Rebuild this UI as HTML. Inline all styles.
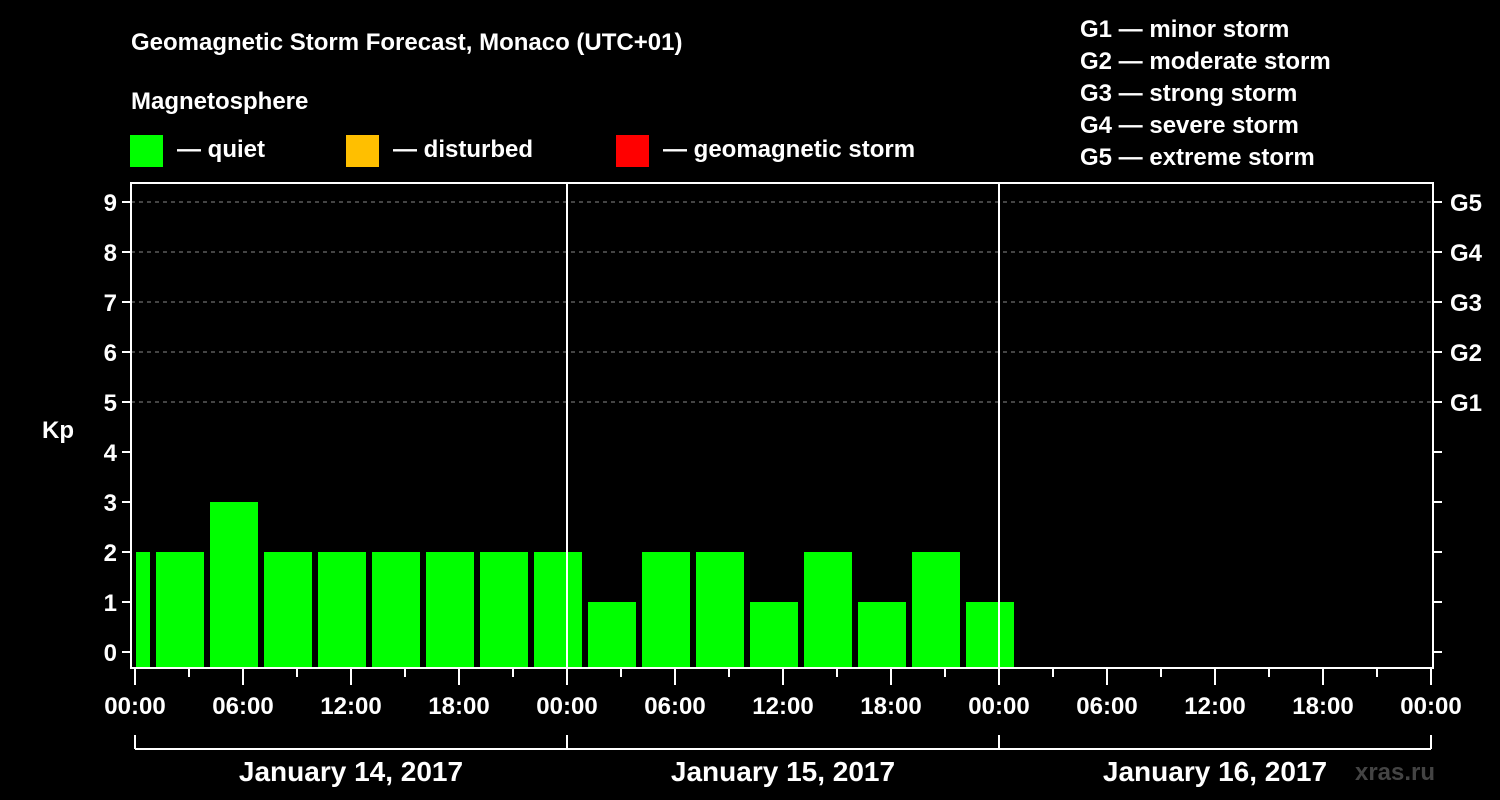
<!DOCTYPE html>
<html><head><meta charset="utf-8"><style>
html,body{margin:0;padding:0;background:#000;}
svg{display:block;font-family:"Liberation Sans",Arial,sans-serif;font-weight:bold;}
</style></head><body>
<svg id="chart" width="1500" height="800" viewBox="0 0 1500 800">
<rect width="1500" height="800" fill="#000"/>
<text x="131" y="50" fill="#fff" font-size="24">Geomagnetic Storm Forecast, Monaco (UTC+01)</text>
<text x="131" y="109" fill="#fff" font-size="24">Magnetosphere</text>
<g><rect x="130" y="135" width="33" height="32" fill="#00ff00"/><text x="177" y="157" fill="#fff" font-size="24">— quiet</text></g>
<g><rect x="346" y="135" width="33" height="32" fill="#ffbf00"/><text x="393" y="157" fill="#fff" font-size="24">— disturbed</text></g>
<g><rect x="616" y="135" width="33" height="32" fill="#ff0000"/><text x="663" y="157" fill="#fff" font-size="24">— geomagnetic storm</text></g>
<g fill="#fff" font-size="24">
<text x="1080" y="37">G1 — minor storm</text>
<text x="1080" y="69">G2 — moderate storm</text>
<text x="1080" y="101">G3 — strong storm</text>
<text x="1080" y="133">G4 — severe storm</text>
<text x="1080" y="165">G5 — extreme storm</text>
</g>
<text x="42" y="438" fill="#fff" font-size="24">Kp</text>
<text x="1395" y="780" fill="#444" font-size="24" text-anchor="middle">xras.ru</text>
<g id="plot"></g>
</svg>
<script>
const kpValues=[2,2,3,2,2,2,2,2,2,1,2,2,1,2,1,2,1];
const binStartHours=[-2,1,4,7,10,13,16,19,22,25,28,31,34,37,40,43,46];
const yTicks=[0,1,2,3,4,5,6,7,8,9];
const gLabels=["G1","G2","G3","G4","G5"];
const gLevels=[5,6,7,8,9];
const timeLabels=["00:00","06:00","12:00","18:00","00:00","06:00","12:00","18:00","00:00","06:00","12:00","18:00","00:00"];
const dayLabels=["January 14, 2017","January 15, 2017","January 16, 2017"];

const NS="http://www.w3.org/2000/svg";
const g=document.getElementById('plot');
const X0=135,PXH=18,Y0=652,PXV=50,L=131,R=1433,T=183,B=668;
const xs=h=>X0+h*PXH, ys=v=>Y0-v*PXV;
function mk(tag,a,p){const e=document.createElementNS(NS,tag);for(const k in a)e.setAttribute(k,a[k]);(p||g).appendChild(e);return e;}

// grid
gLevels.forEach(v=>{const l=mk('line',{x1:L,x2:R,y1:ys(v),y2:ys(v),stroke:'#888','stroke-width':1,'stroke-dasharray':'4,4'});

});
// bars
kpValues.forEach((v,i)=>{
  const c=v>=5?'#ff0000':(v>=4?'#ffbf00':'#00ff00');
  let x1=xs(binStartHours[i])+3, x2=xs(binStartHours[i]+3)-3;
  x1=Math.max(x1,L+5);
  const r=mk('rect',{x:x1,y:ys(v),width:x2-x1,height:B-ys(v),fill:c});
  
  
});
// day separators
[1,2].forEach(d=>{const l=mk('line',{x1:xs(d*24),x2:xs(d*24),y1:T,y2:B,stroke:'#fff','stroke-width':2});

});
// frame
const f=mk('rect',{x:L,y:T,width:R-L,height:B-T,fill:'none',stroke:'#fff','stroke-width':2});


// y ticks
yTicks.forEach(v=>{
  mk('line',{x1:L-9,x2:L,y1:ys(v),y2:ys(v),stroke:'#fff','stroke-width':2});
  mk('line',{x1:R,x2:R+9,y1:ys(v),y2:ys(v),stroke:'#fff','stroke-width':2});
  const t=mk('text',{x:L-14,y:ys(v)+9,fill:'#fff','font-size':24,'text-anchor':'end'});t.textContent=v;
  
  
});
gLabels.forEach((s,i)=>{const t=mk('text',{x:1450,y:ys(gLevels[i])+9,fill:'#fff','font-size':24});t.textContent=s;
  
  });
// x ticks
for(let h=0;h<=72;h+=3){const major=h%6===0;
  mk('line',{x1:xs(h),x2:xs(h),y1:B,y2:B+(major?17:9),stroke:'#fff','stroke-width':2});}
timeLabels.forEach((s,i)=>{const t=mk('text',{x:xs(i*6),y:714,fill:'#fff','font-size':24,'text-anchor':'middle'});t.textContent=s;
  
  });
// day bracket
mk('line',{x1:xs(0),x2:xs(72),y1:749,y2:749,stroke:'#fff','stroke-width':2});
for(let d=0;d<=3;d++)mk('line',{x1:xs(d*24),x2:xs(d*24),y1:735,y2:749,stroke:'#fff','stroke-width':2});
dayLabels.forEach((s,i)=>{const t=mk('text',{x:xs(i*24+12),y:781,fill:'#fff','font-size':28,'text-anchor':'middle'});t.textContent=s;
  
  });
</script>
</body></html>
